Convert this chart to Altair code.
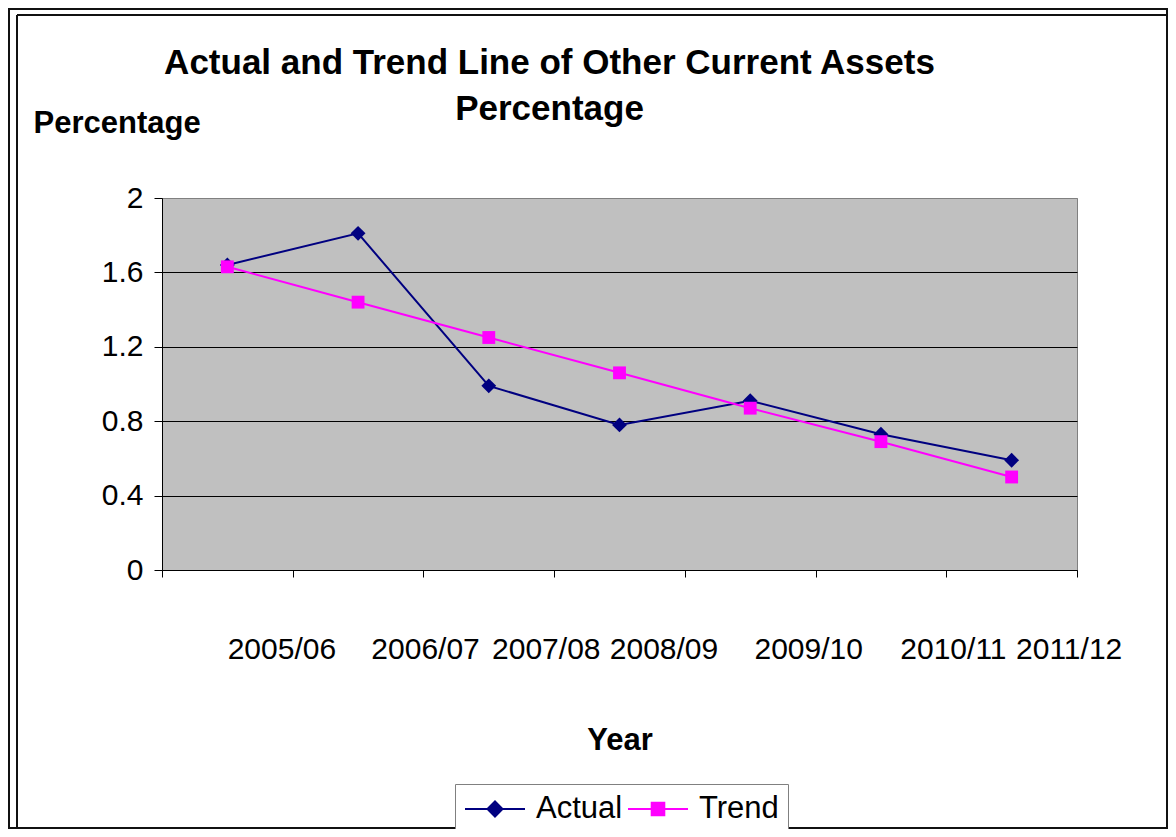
import altair as alt
import pandas as pd

# ---- data ----
years = ["2005/06", "2006/07", "2007/08", "2008/09", "2009/10", "2010/11", "2011/12"]
actual = [1.64, 1.81, 0.99, 0.78, 0.91, 0.73, 0.59]
trend = [1.63, 1.44, 1.25, 1.06, 0.87, 0.69, 0.50]
series_names = ["Actual", "Trend"]
y_ticks = [0, 0.4, 0.8, 1.2, 1.6, 2]

df = pd.DataFrame({
    "year": years * 2,
    "value": actual + trend,
    "series": ["Actual"] * len(years) + ["Trend"] * len(years),
})

FONT = "Liberation Sans"
NAVY = "#000080"
MAGENTA = "#FF00FF"
colors = [NAVY, MAGENTA]

W, H = 915, 372
PAD = {"left": 154, "top": 190, "right": 91, "bottom": 259}

# per-label horizontal shifts (Excel-style irregular label placement)
shifts = {"2005/06": 54, "2006/07": 67, "2007/08": 57, "2008/09": 44,
          "2009/10": 58, "2010/11": 72, "2011/12": 57}
label_offset = {
    "condition": [{"test": f"datum.value === '{k}'", "value": v} for k, v in shifts.items()],
    "value": 0,
}

x_enc = alt.X(
    "year:N", sort=years,
    scale=alt.Scale(type="band", paddingInner=0, paddingOuter=0),
    axis=alt.Axis(
        title="Year", titleFont=FONT, titleFontSize=31, titleFontWeight="bold",
        titleColor="black", titleY=179, titleBaseline="alphabetic",
        labelFont=FONT, labelFontSize=30, labelColor="black", labelAngle=0,
        labelBaseline="alphabetic", labelPadding=81, labelOffset=label_offset,
        labelOverlap=False, labelBound=False, labelFlush=False,
        tickBand="extent", tickSize=7, tickColor="black", tickWidth=1,
        domainColor="black", domainWidth=1, grid=False,
    ),
)

y_enc = alt.Y(
    "value:Q",
    scale=alt.Scale(domain=[0, 2], nice=False, zero=True),
    axis=alt.Axis(
        values=y_ticks, format=".1~f",
        title="Percentage", titleFont=FONT, titleFontSize=31, titleFontWeight="bold",
        titleColor="black", titleAngle=0, titleAlign="left", titleX=-129, titleY=-66,
        titleBaseline="alphabetic",
        labelFont=FONT, labelFontSize=30, labelColor="black", labelPadding=11,
        labelBaseline="middle",
        tickSize=8, tickColor="black", tickWidth=1,
        domainColor="black", domainWidth=1,
        grid=True, gridWidth=1,
        gridColor={"condition": {"test": "datum.value === 2", "value": "#808080"}, "value": "black"},
    ),
)

base = alt.Chart(df)

# line colour scale (domain order reversed so it does not merge with the legend layer's scales)
line_color = alt.Scale(domain=series_names[::-1], range=colors[::-1])
lines = base.mark_line(strokeWidth=2).encode(
    x=x_enc, y=y_enc,
    color=alt.Color("series:N", scale=line_color, legend=None),
    detail="series:N",
)

pts_actual = base.transform_filter("datum.series === 'Actual'").mark_point(
    shape="diamond", filled=True, size=220, opacity=1, color=NAVY
).encode(x=x_enc, y=y_enc)

pts_trend = base.transform_filter("datum.series === 'Trend'").mark_point(
    shape="square", filled=True, size=165, opacity=1, color=MAGENTA
).encode(x=x_enc, y=y_enc)

# legend symbols: a short line with the marker in its middle
legend_paths = [
    "M-1,0H3M0.5,0L1,-0.5L1.5,0L1,0.5Z",
    "M-1,0H3M0.58,-0.42H1.42V0.42H0.58Z",
]

leg = alt.Legend(
    orient="none", legendX=293, legendY=586, direction="horizontal", title=None,
    labelFont=FONT, labelFontSize=31, labelColor="black", labelOffset=40,
    symbolSize=900, symbolStrokeWidth=2, symbolOpacity=1, columnPadding=1, padding=9,
    strokeColor="#808080", fillColor="white",
)

# layer that draws nothing; it only carries the legend (line + marker symbols)
legend_layer = base.transform_filter("false").mark_point(filled=True, strokeWidth=2).encode(
    fill=alt.Fill("series:N", scale=alt.Scale(domain=series_names, range=colors), legend=leg),
    stroke=alt.Stroke("series:N", scale=alt.Scale(domain=series_names, range=colors), legend=leg),
    shape=alt.Shape("series:N", scale=alt.Scale(domain=series_names, range=legend_paths), legend=leg),
)

one = alt.Data(values=[{"k": 1}])
outer_border = alt.Chart(one).mark_rect(fill="transparent", stroke="#111111", strokeWidth=2).encode(
    x=alt.value(-153), x2=alt.value(1005), y=alt.value(-189), y2=alt.value(630)
)
inner_left = alt.Chart(one).mark_rule(stroke="#111111", strokeWidth=2).encode(
    x=alt.value(-145), y=alt.value(-183), y2=alt.value(632)
)
inner_top = alt.Chart(one).mark_rule(stroke="#111111", strokeWidth=2).encode(
    x=alt.value(-145), x2=alt.value(1010), y=alt.value(-183)
)

chart = alt.layer(
    outer_border, inner_left, inner_top, lines, pts_actual, pts_trend, legend_layer
).properties(
    width=W, height=H,
    autosize=alt.AutoSizeParams(type="none"),
    padding=PAD,
    view=alt.ViewBackground(fill="#C0C0C0", stroke="#808080", strokeWidth=1),
    title=alt.TitleParams(
        ["Actual and Trend Line of Other Current Assets", "Percentage"],
        font=FONT, fontSize=35, fontWeight="bold", color="black",
        anchor="middle", dx=-70, dy=123, lineHeight=46,
    ),
    background="white",
).configure_view(
    fill="#C0C0C0", stroke="#808080", strokeWidth=1
)

chart.save("out.html", embed_options={"renderer": "svg", "actions": False})
